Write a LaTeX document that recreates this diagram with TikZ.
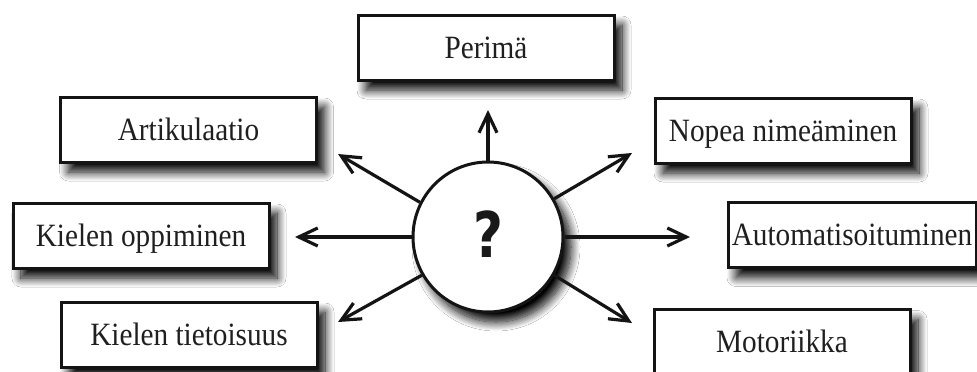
\documentclass[tikz,border=0pt]{standalone}
\usepackage{fontspec}
\setmainfont{Liberation Serif}[FakeStretch=0.9]
\newfontfamily\qfont{DejaVu Sans}[FakeStretch=0.82]
\usetikzlibrary{arrows.meta,shadows.blur}
\begin{document}
\begin{tikzpicture}[x=1pt,y=-1pt,
  shade/.style={blur shadow={shadow xshift=8pt, shadow yshift=-10pt, shadow blur radius=9pt, shadow blur steps=14, shadow opacity=100}},
  box/.style={draw=black!92, line width=3pt, fill=white, minimum width=256pt, minimum height=65pt,
    inner sep=0pt, text height=21.5pt, text depth=0pt, text=black!88,
    font=\fontsize{32.5}{36}\selectfont, shade},
  hub/.style={circle, draw=black!92, line width=3pt, fill=white, minimum size=150pt, inner sep=0pt, shade},
  arr/.style={draw=black!92, line width=3.2pt, -{Straight Barb[length=19pt,width=18pt]}}
]
\useasboundingbox (0,0) rectangle (977,372);
\fill[white] (0,0) rectangle (977,372);

\node[box] (per) at (486,47.5) {Perimä};
\node[box] (art) at (188.5,129.5) {Artikulaatio};
\node[box] (nop) at (783,130.5) {Nopea nimeäminen};
\node[box] (kop) at (141,235.5) {Kielen oppiminen};
\node[box, minimum width=248pt] (aut) at (852,235) {Automatisoituminen};
\node[box] (kti) at (189,334.5) {Kielen tietoisuus};
\node[box] (mot) at (782,342) {Motoriikka};

\node[hub] (c) at (488,237) {};
\node[inner sep=0pt, text=black!90] (q) at (488,234) {\qfont\bfseries\fontsize{63}{63}\selectfont ?};

\coordinate (tU) at (488,110);
\coordinate (tUL) at (338,154);
\coordinate (tUR) at (632,153);
\coordinate (tL) at (295,237);
\coordinate (tR) at (690,237);
\coordinate (tDL) at (338,322);
\coordinate (tDR) at (632,323);

\draw[arr] (c.90) -- (tU);
\draw[arr] (c.153) -- (tUL);
\draw[arr] (c.30) -- (tUR);
\draw[arr] (c.180) -- (tL);
\draw[arr] (c.0) -- (tR);
\draw[arr] (c.-150) -- (tDL);
\draw[arr] (c.-30) -- (tDR);
\end{tikzpicture}
\end{document}
